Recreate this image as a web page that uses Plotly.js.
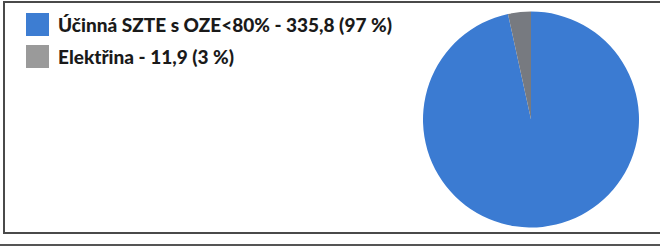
<!DOCTYPE html>
<html>
<head>
<meta charset="utf-8">
<script src="https://cdn.plot.ly/plotly-3.0.1.min.js"></script>
<style>html,body{margin:0;padding:0;background:#fff;}#chart{width:660px;height:247px;}</style>
</head>
<body>
<div id="chart"></div>
<script>
var labels = ["Účinná SZTE s OZE<80%", "Elektřina"];
var values = [335.8, 11.9];
var valueText = ["335,8", "11,9"];
var percentText = ["97 %", "3 %"];
var sliceColors = ["#3b7bd2", "#777a80"];
var legendColors = ["#3d7dd2", "#9a9a9a"];

var W = 660, H = 247;
function px(x){ return x / W; }
function py(y){ return 1 - y / H; }

var trace = {
  type: "pie",
  labels: labels,
  values: values,
  sort: false,
  direction: "clockwise",
  rotation: 0,
  marker: {colors: sliceColors, line: {width: 0}},
  textinfo: "none",
  hoverinfo: "label+value+percent",
  showlegend: false,
  domain: {x: [px(423), px(639)], y: [py(227.5), py(11.5)]}
};

var shapes = [
  {type: "rect", xref: "paper", yref: "paper", x0: px(4), x1: px(664), y0: py(233), y1: py(2),
   line: {color: "#4a4a4a", width: 2}, fillcolor: "rgba(0,0,0,0)"},
  {type: "line", xref: "paper", yref: "paper", x0: 0, x1: 1, y0: py(245), y1: py(245),
   line: {color: "#555", width: 2}}
];
var annotations = [];
var rowY = [24.5, 56.5];
for (var i = 0; i < labels.length; i++) {
  shapes.push({type: "rect", xref: "paper", yref: "paper",
    x0: px(26), x1: px(49), y0: py(rowY[i] + 11.5), y1: py(rowY[i] - 11.5),
    line: {width: 0}, fillcolor: legendColors[i]});
  annotations.push({xref: "paper", yref: "paper", x: px(56), y: py(rowY[i]),
    xanchor: "left", yanchor: "middle", showarrow: false,
    text: labels[i].replace("<", "&lt;") + " - " + valueText[i] + " (" + percentText[i] + ")",
    font: {family: "Lato, 'Open Sans', sans-serif", size: 19, color: "#1a1a1a", weight: 900}});
}

var layout = {
  width: W, height: H,
  margin: {l: 0, r: 0, t: 0, b: 0},
  paper_bgcolor: "#ffffff",
  shapes: shapes,
  annotations: annotations
};

Plotly.newPlot("chart", [trace], layout, {displayModeBar: false, staticPlot: true});
</script>
</body>
</html>
